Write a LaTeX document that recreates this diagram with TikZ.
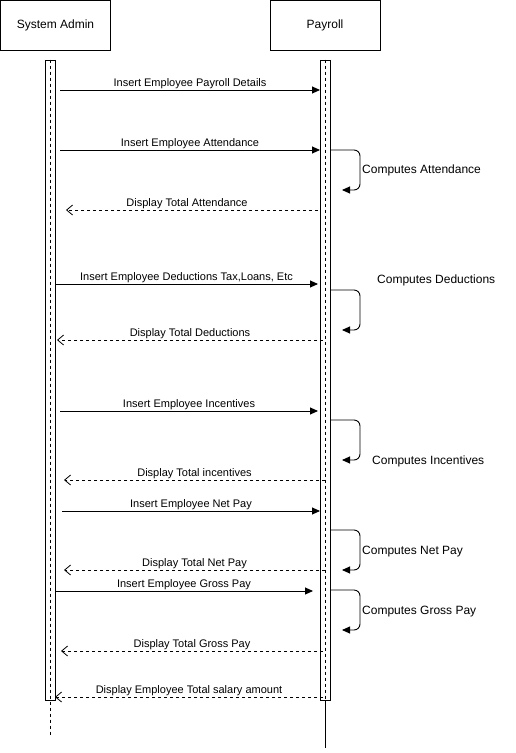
\documentclass[tikz,border=0pt]{standalone}
\usepackage{fontspec}
\setmainfont{Liberation Sans}
\usetikzlibrary{arrows.meta}
\usetikzlibrary{positioning}

\tikzset{
	actor/.style={draw, line width=0.9pt, minimum width=110pt, minimum height=50pt, inner sep=0pt, font=\fontsize{12}{14}\selectfont},
	bar/.style={draw, line width=0.9pt, minimum width=10pt, minimum height=640pt, inner sep=0pt},
	lifeline/.style={line width=0.8pt, dash pattern=on 3pt off 3pt},
	call/.style={line width=0.9pt, -{Triangle[length=8pt, width=7pt]}},
	reply/.style={line width=0.8pt, dash pattern=on 3pt off 3pt, -{Straight Barb[length=6pt, width=10pt]}},
	selfcall/.style={line width=0.9pt, rounded corners=6pt, -{Triangle[length=8pt, width=7pt]}},
	msg/.style={font=\fontsize{11}{13}\selectfont, above, inner sep=1pt},
	note/.style={font=\fontsize{12}{14}\selectfont, anchor=west, inner sep=0pt, yshift=-1.5pt},
}

\begin{document}
\begin{tikzpicture}[x=1pt, y=-1pt]
	\useasboundingbox (0,0) rectangle (516,753);

	%Actors

	\node (Admin) [actor] at (55.5,25.5) {System Admin};
	\node (Payroll) [actor] at (325,25.5) {Payroll};

	%Lifelines

	\node (AdminBar) [bar] at (50,380) {};
	\node (PayrollBar) [bar] at (325,380) {};
	\coordinate (AdminEnd) at (50,735);
	\coordinate (PayrollEnd) at (325,748);

	\draw [lifeline] (AdminBar.north) -- (AdminEnd);
	\draw [lifeline] (PayrollBar.north) -- (PayrollBar.south);
	\draw [line width=0.9pt] (PayrollBar.south) -- (PayrollEnd);

	%Payroll details

	\coordinate (DetailsA) at (60,90);
	\coordinate (DetailsP) at (320,90);
	\draw [call] (DetailsA) -- node [msg] {Insert Employee Payroll Details} (DetailsP);

	%Attendance

	\coordinate (AttendA) at (60,150);
	\coordinate (AttendP) at (320,150);
	\draw [call] (AttendA) -- node [msg] {Insert Employee Attendance} (AttendP);

	\coordinate (AttendLoop) at (330,150);
	\coordinate (AttendBack) at (342,190);
	\draw [selfcall] (AttendLoop) -| ([xshift=18pt]AttendBack) -- (AttendBack);
	\node (AttendNote) [note] at (362,169) {Computes Attendance};

	\coordinate (AttendRetP) at (318,210);
	\coordinate (AttendRetA) at (66,210);
	\draw [reply] (AttendRetP) -- node [msg, xshift=-5pt] {Display Total Attendance} (AttendRetA);

	%Deductions

	\coordinate (DeductA) at (55,284);
	\coordinate (DeductP) at (318,284);
	\draw [call] (DeductA) -- node [msg] {Insert Employee Deductions Tax,Loans, Etc} (DeductP);

	\coordinate (DeductLoop) at (330,290);
	\coordinate (DeductBack) at (342,330);
	\draw [selfcall] (DeductLoop) -| ([xshift=18pt]DeductBack) -- (DeductBack);
	\node (DeductNote) [note] at (377,279) {Computes Deductions};

	\coordinate (DeductRetP) at (323,340);
	\coordinate (DeductRetA) at (57,340);
	\draw [reply] (DeductRetP) -- node [msg] {Display Total Deductions} (DeductRetA);

	%Incentives

	\coordinate (IncentA) at (60,411);
	\coordinate (IncentP) at (318,411);
	\draw [call] (IncentA) -- node [msg] {Insert Employee Incentives} (IncentP);

	\coordinate (IncentLoop) at (330,420);
	\coordinate (IncentBack) at (342,460);
	\draw [selfcall] (IncentLoop) -| ([xshift=18pt]IncentBack) -- (IncentBack);
	\node (IncentNote) [note] at (372,460) {Computes Incentives};

	\coordinate (IncentRetP) at (325,480);
	\coordinate (IncentRetA) at (64,480);
	\draw [reply] (IncentRetP) -- node [msg] {Display Total incentives} (IncentRetA);

	%Net pay

	\coordinate (NetA) at (62,511);
	\coordinate (NetP) at (320,511);
	\draw [call] (NetA) -- node [msg] {Insert Employee Net Pay} (NetP);

	\coordinate (NetLoop) at (330,530);
	\coordinate (NetBack) at (342,570);
	\draw [selfcall] (NetLoop) -| ([xshift=18pt]NetBack) -- (NetBack);
	\node (NetNote) [note] at (362,550) {Computes Net Pay};

	\coordinate (NetRetP) at (325,570);
	\coordinate (NetRetA) at (64,570);
	\draw [reply] (NetRetP) -- node [msg] {Display Total Net Pay} (NetRetA);

	%Gross pay

	\coordinate (GrossA) at (55,591);
	\coordinate (GrossP) at (313,591);
	\draw [call] (GrossA) -- node [msg] {Insert Employee Gross Pay} (GrossP);

	\coordinate (GrossLoop) at (330,590);
	\coordinate (GrossBack) at (342,630);
	\draw [selfcall] (GrossLoop) -| ([xshift=18pt]GrossBack) -- (GrossBack);
	\node (GrossNote) [note] at (362,610) {Computes Gross Pay};

	\coordinate (GrossRetP) at (323,651);
	\coordinate (GrossRetA) at (61,651);
	\draw [reply] (GrossRetP) -- node [msg] {Display Total Gross Pay} (GrossRetA);

	%Salary

	\coordinate (SalaryP) at (323,697);
	\coordinate (SalaryA) at (55,697);
	\draw [reply] (SalaryP) -- node [msg] {Display Employee Total salary amount} (SalaryA);

\end{tikzpicture}
\end{document}
